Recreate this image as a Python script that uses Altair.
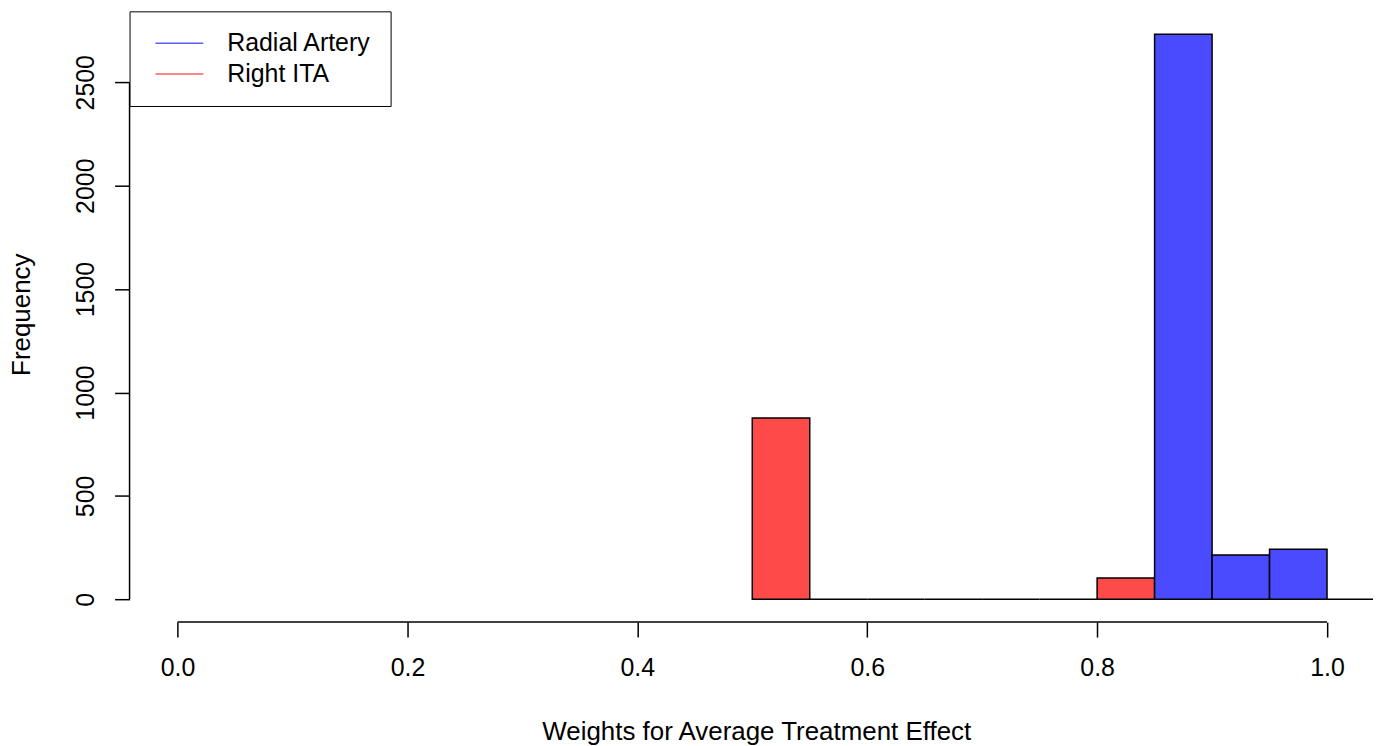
import altair as alt
import pandas as pd

# ---- data ----
groups = ["Radial Artery", "Right ITA"]
red_bin_starts = [0.50, 0.55, 0.60, 0.65, 0.70, 0.75, 0.80]
red_counts = [877, 0, 0, 0, 0, 0, 103]
blue_bin_starts = [0.85, 0.90, 0.95, 1.00]
blue_counts = [2732, 214, 242, 0]
bin_width = 0.05
x_ticks = [0.0, 0.2, 0.4, 0.6, 0.8, 1.0]
y_ticks = [0, 500, 1000, 1500, 2000, 2500]

fill_colors = ["#4A4AFF", "#FF4A4A"]
line_colors = ["#5C5CFF", "#FF5C5C"]
FONT = "Liberation Sans"

rows = []
for s, c in zip(red_bin_starts, red_counts):
    rows.append({"group": "Right ITA", "start": s, "end": round(s + bin_width, 4), "count": c})
for s, c in zip(blue_bin_starts, blue_counts):
    rows.append({"group": "Radial Artery", "start": s, "end": round(s + bin_width, 4), "count": c})
df = pd.DataFrame(rows)

xscale = alt.Scale(domain=[-0.04, 1.04], nice=False, zero=False)
yscale = alt.Scale(domain=[-110, 2843], nice=False, zero=False)

bars = alt.Chart(df).mark_rect(stroke="black", strokeWidth=1.5, clip=True).encode(
    x=alt.X("start:Q", scale=xscale, axis=alt.Axis(
        values=x_ticks, format=".1f", domain=False, grid=False,
        tickSize=15, tickWidth=1.5, tickColor="black",
        labelFont=FONT, labelFontSize=25, labelColor="black",
        labelPadding=19, labelBaseline="top", labelAlign="center",
        labelFlush=False, labelOverlap=False,
        title="Weights for Average Treatment Effect",
        titleFont=FONT, titleFontSize=26, titleFontWeight="normal", titleColor="black",
        titleX=627, titleY=118, titleAlign="center", titleBaseline="alphabetic")),
    x2="end:Q",
    y=alt.Y("count:Q", scale=yscale, axis=alt.Axis(
        values=y_ticks, format="d", domain=False, grid=False, offset=2,
        tickSize=15, tickWidth=1.5, tickColor="black",
        labelFont=FONT, labelFontSize=25, labelColor="black",
        labelAngle=270, labelAlign="center", labelBaseline="alphabetic",
        labelPadding=21, labelFlush=False, labelOverlap=False,
        title="Frequency",
        titleFont=FONT, titleFontSize=26, titleFontWeight="normal", titleColor="black",
        titleAngle=270, titleX=-100, titleY=304, titleAlign="center",
        titleBaseline="alphabetic")),
    y2=alt.datum(0),
    # reversed domain order so this (hidden) fill scale is not merged with the legend's scale
    fill=alt.Color("group:N", scale=alt.Scale(domain=groups[::-1], range=fill_colors[::-1]),
                   legend=None),
)

x_domain = alt.Chart(pd.DataFrame({"a": [0]})).mark_rule(color="black", strokeWidth=1.5).encode(
    x=alt.datum(x_ticks[0]), x2=alt.datum(x_ticks[-1]), y=alt.value(613)
)
y_domain = alt.Chart(pd.DataFrame({"a": [0]})).mark_rule(color="black", strokeWidth=1.5).encode(
    y=alt.datum(y_ticks[0]), y2=alt.datum(y_ticks[-1]), x=alt.value(-2)
)

legend_layer = alt.Chart(pd.DataFrame({"group": groups})).mark_rule(opacity=0).encode(
    x=alt.value(0), y=alt.value(0), y2=alt.value(1),
    stroke=alt.Stroke("group:N", scale=alt.Scale(domain=groups, range=line_colors),
                      legend=alt.Legend(
                          orient="none", legendX=-2, legendY=0, title=None,
                          fillColor="white", strokeColor="black", padding=19,
                          symbolType="M-2,0H2", symbolSize=576, symbolStrokeWidth=1.5,
                          symbolOffset=18, symbolOpacity=1,
                          labelFont=FONT, labelFontSize=25,
                          labelColor="black", labelOffset=35, rowPadding=5)),
)

chart = alt.layer(bars, x_domain, y_domain, legend_layer).properties(
    width=1246, height=613,
    autosize=alt.AutoSizeParams(type="none"),
    padding={"left": 124, "top": 2, "right": 0, "bottom": 123},
).configure_view(strokeWidth=0)

chart.save("out.html", embed_options={"renderer": "svg", "actions": False})
